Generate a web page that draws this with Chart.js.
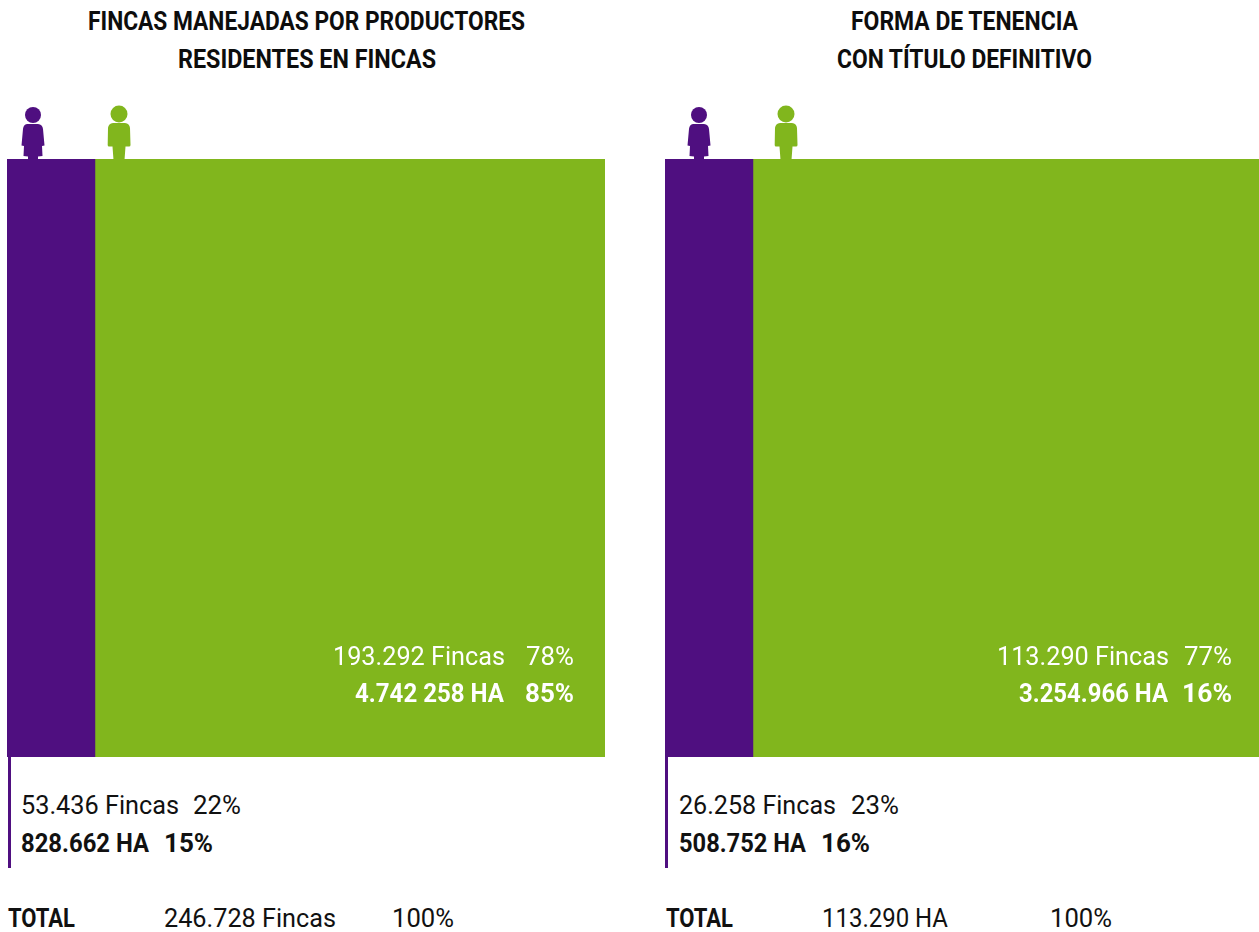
<!DOCTYPE html>
<html lang="es"><head><meta charset="utf-8"><title>Fincas por sexo del productor</title>
<style>
  html, body { margin: 0; padding: 0; background: #fff; }
  body { position: relative; width: 1259px; height: 932px; overflow: hidden; color: #111; font: 400 25px/1 Roboto, sans-serif; }
  canvas { position: absolute; top: 159px; display: block; }
  #left { left: 7px; } #right { left: 665px; }
  .t { position: absolute; white-space: pre; transform-origin: 0 50%; }
  .title { font-weight: 700; font-size: 25px; color: #0d0d0d; }
  .b { font-weight: 700; }
  .on { color: #fff; }
  .rule { position: absolute; top: 757px; width: 3px; height: 111px; background: #4f0f80; }
  svg.icon { position: absolute; top: 100px; }
</style></head>
<body>
<canvas id="left" width="598" height="598"></canvas>
<canvas id="right" width="594" height="598"></canvas>
<div class="rule" style="left:7.5px"></div>
<div class="rule" style="left:665.3px"></div>

<svg width="0" height="0" style="position:absolute">
  <symbol id="woman" viewBox="0 0 30 60">
    <circle cx="15" cy="15" r="8"/>
    <path d="M9 24 L20 24 Q24.500 24.500 25 29 L26.500 45.500 L24 46 L24.500 56 L20 56.500 L20 60 L10 60 L10 56.500 L5.500 56 L6 46 L3.500 45.500 L5 29 Q5.500 24.500 9 24Z"/>
  </symbol>
  <symbol id="man" viewBox="0 0 30 60">
    <circle cx="15" cy="14" r="8.500"/>
    <path d="M9 23 L21 23 Q25.500 23.500 26 28 L26.500 45 Q26.500 46.500 25 46.500 L21.500 46.500 L20.500 60 L9.500 60 L8.500 46.500 L5 46.500 Q3.700 46.500 3.700 45 L4 28 Q4.500 23.500 9 23Z"/>
  </symbol>
</svg>
<svg class="icon" style="left:17.700px" width="30" height="60" fill="#4f0f80"><use href="#woman"/></svg>
<svg class="icon" style="left:104px" width="30" height="60" fill="#81b61d"><use href="#man"/></svg>
<svg class="icon" style="left:684.300px" width="30" height="60" fill="#4f0f80"><use href="#woman"/></svg>
<svg class="icon" style="left:771px" width="30" height="60" fill="#81b61d"><use href="#man"/></svg>

<script src="https://cdn.jsdelivr.net/npm/chart.js@4"></script>
<script>
// Bar widths, share of each block's width
const categories = ['Mujeres', 'Hombres'];
const leftShares = [14.7, 85.3];
const rightShares = [14.8, 85.2];
const colors = ['#4f0f80', '#81b61d'];

const leftTitle = ['FINCAS MANEJADAS POR PRODUCTORES', 'RESIDENTES EN FINCAS'];
const rightTitle = ['FORMA DE TENENCIA', 'CON TÍTULO DEFINITIVO'];

const leftMen = ['193.292 Fincas', '78%', '4.742 258 HA', '85%'];
const rightMen = ['113.290 Fincas', '77%', '3.254.966 HA', '16%'];
const leftWomen = ['53.436 Fincas', '22%', '828.662 HA', '15%'];
const rightWomen = ['26.258 Fincas', '23%', '508.752 HA', '16%'];
const leftTotal = ['TOTAL', '246.728 Fincas', '100%'];
const rightTotal = ['TOTAL', '113.290 HA', '100%'];

function draw(id, shares) {
  new Chart(document.getElementById(id), {
    type: 'bar',
    data: {
      labels: [''],
      datasets: categories.map((c, i) => ({
        label: c, data: [shares[i]], backgroundColor: colors[i], borderWidth: 0,
        barPercentage: 1, categoryPercentage: 1,
      })),
    },
    options: {
      indexAxis: 'y', responsive: false, maintainAspectRatio: false, animation: false,
      layout: { padding: 0 },
      plugins: { legend: { display: false }, tooltip: { enabled: false } },
      scales: {
        x: { display: false, stacked: true, min: 0, max: 100 },
        y: { display: false, stacked: true },
      },
    },
  });
}
draw('left', leftShares);
draw('right', rightShares);

// Real text, squeezed sideways to the width it has in the picture (no condensed face is installed)
function put(text, x, cy, w, cls) {
  const el = document.createElement('div');
  el.className = 't ' + (cls || '');
  el.textContent = text;
  document.body.appendChild(el);
  const natural = el.getBoundingClientRect().width;
  el.style.left = x + 'px';
  el.style.top = cy + 'px';
  el.style.transform = `translateY(-50%) scaleX(${w / natural})`;
}

put(leftTitle[0], 88, 21, 437, 'title');
put(leftTitle[1], 178, 59, 258, 'title');
put(rightTitle[0], 851, 21, 227, 'title');
put(rightTitle[1], 837, 59, 255, 'title');

put(leftMen[0], 333, 656, 172, 'on');
put(leftMen[1], 526, 656, 48, 'on');
put(leftMen[2], 355, 693, 149, 'on b');
put(leftMen[3], 525, 693, 49, 'on b');
put(rightMen[0], 997, 656, 172, 'on');
put(rightMen[1], 1184, 656, 48, 'on');
put(rightMen[2], 1019, 693, 149, 'on b');
put(rightMen[3], 1182, 693, 50, 'on b');

put(leftWomen[0], 21, 805, 158);
put(leftWomen[1], 193, 805, 48);
put(leftWomen[2], 21, 843, 128, 'b');
put(leftWomen[3], 164, 843, 49, 'b');
put(rightWomen[0], 679, 805, 157);
put(rightWomen[1], 851, 805, 48);
put(rightWomen[2], 679, 843, 127, 'b');
put(rightWomen[3], 821, 843, 49, 'b');

put(leftTotal[0], 8, 918, 67, 'b');
put(leftTotal[1], 164, 918, 172);
put(leftTotal[2], 392, 918, 62);
put(rightTotal[0], 666, 918, 67, 'b');
put(rightTotal[1], 822, 918, 126);
put(rightTotal[2], 1050, 918, 62);
</script>
</body></html>
